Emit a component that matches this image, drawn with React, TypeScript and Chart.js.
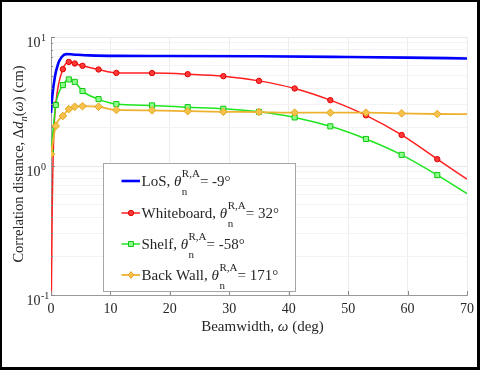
import React, { useEffect, useRef } from "react";
import { Chart, registerables } from "chart.js";

Chart.register(...registerables);

// ---------- data ----------
const X_TICKS = [0, 10, 20, 30, 40, 50, 60, 70];
const Y_GRID_VALUES = [
  0.1, 0.2, 0.3, 0.4, 0.5, 0.6, 0.7, 0.8, 0.9,
  1, 2, 3, 4, 5, 6, 7, 8, 9, 10,
];
const Y_DECADES = [0.1, 1, 10];
const Y_DECADE_EXPONENTS = ["-1", "0", "1"];

const MARKED_BEAMWIDTHS = [0, 0.8, 2, 3, 4, 5.3, 8, 11, 17, 23, 29, 35, 41, 47, 53, 59, 65];

const losBeamwidth = [0, 0.2, 0.65, 1.2, 1.8, 2.6, 3.7, 6.5, 11, 20, 35, 50, 60, 70];
const losDistance = [2.58, 3.4, 4.9, 6.2, 7.0, 7.37, 7.32, 7.2, 7.14, 7.13, 7.1, 7.0, 6.92, 6.82];

const whiteboardBeamwidth = [0, 0.2, 0.45, 0.8, 2, 3, 4, 5.3, 8, 11, 17, 23, 29, 35, 41, 47, 53, 59, 65, 70];
const whiteboardDistance = [0.05, 0.45, 1.65, 3.0, 5.63, 6.41, 6.23, 5.98, 5.6, 5.27, 5.25, 5.15, 4.97, 4.57, 3.99, 3.24, 2.47, 1.74, 1.13, 0.79];

const shelfBeamwidth = [0, 0.8, 2, 3, 4, 5.3, 8, 11, 17, 23, 29, 35, 41, 47, 53, 59, 65, 70];
const shelfDistance = [1.27, 2.97, 4.24, 4.69, 4.49, 3.81, 3.3, 3.02, 2.95, 2.86, 2.78, 2.63, 2.38, 2.03, 1.62, 1.22, 0.85, 0.61];

const backWallBeamwidth = [0, 0.8, 2, 3, 4, 5.3, 8, 11, 17, 23, 29, 35, 41, 47, 53, 59, 65, 70];
const backWallDistance = [1.24, 2.04, 2.44, 2.76, 2.88, 2.91, 2.88, 2.72, 2.7, 2.66, 2.63, 2.62, 2.59, 2.59, 2.59, 2.56, 2.53, 2.52];

const SERIES_NAMES = ["LoS, ", "Whiteboard, ", "Shelf, ", "Back Wall, "];
const SERIES_ANGLES = ["= -9°", "= 32°", "= -58°", "= 171°"];

// ---------- styles ----------
const SERIF = '"Liberation Serif", "Times New Roman", serif';
const TEXT = "#262626";
const BLUE = "#0000ff";
const RED = "#ff1f1f";
const GREEN = "#1fe61f";
const ORANGE = "#eeb230";

const STYLES = [
  { color: BLUE, width: 2.6, marker: "none", fill: BLUE, stroke: BLUE, r: 0 },
  { color: RED, width: 1.5, marker: "circle", fill: "#ff3a3a", stroke: "#e00000", r: 2.7 },
  { color: GREEN, width: 1.5, marker: "rect", fill: "#8cff8c", stroke: "#10c810", r: 3.6 },
  { color: ORANGE, width: 1.8, marker: "rectRot", fill: "#f6c24a", stroke: "#e3a624", r: 3.8 },
];

const toPoints = (xs: number[], ys: number[]) => xs.map((x, i) => ({ x, y: ys[i] }));

function markerRadius(size: number) {
  return (ctx: any) => {
    const raw = ctx.raw as { x: number } | undefined;
    if (!raw) return 0;
    return MARKED_BEAMWIDTHS.includes(raw.x) ? size : 0;
  };
}

function drawMarker(ctx: CanvasRenderingContext2D, kind: string, x: number, y: number, fill: string, stroke: string) {
  ctx.save();
  ctx.fillStyle = fill;
  ctx.strokeStyle = stroke;
  ctx.lineWidth = 1;
  ctx.beginPath();
  if (kind === "circle") {
    ctx.arc(x, y, 2.7, 0, Math.PI * 2);
  } else if (kind === "rect") {
    ctx.rect(x - 2.5, y - 2.5, 5, 5);
  } else if (kind === "rectRot") {
    ctx.moveTo(x, y - 3.4);
    ctx.lineTo(x + 2.7, y);
    ctx.lineTo(x, y + 3.4);
    ctx.lineTo(x - 2.7, y);
    ctx.closePath();
  } else {
    ctx.restore();
    return;
  }
  ctx.fill();
  ctx.stroke();
  ctx.restore();
}

const decorPlugin = {
  id: "decor",
  afterDraw(chart: any) {
    const { ctx, chartArea } = chart;
    const xs = chart.scales.x;
    const ys = chart.scales.y;
    const { left, right, bottom } = chartArea;
    ctx.save();

    // inward tick marks
    ctx.strokeStyle = "#8a8a8a";
    ctx.lineWidth = 1;
    ctx.beginPath();
    X_TICKS.forEach((v) => {
      const px = Math.round(xs.getPixelForValue(v)) + 0.5;
      ctx.moveTo(px, bottom);
      ctx.lineTo(px, bottom - 4);
    });
    Y_GRID_VALUES.forEach((v) => {
      const py = Math.round(ys.getPixelForValue(v)) + 0.5;
      const len = Y_DECADES.includes(v) ? 4 : 2;
      ctx.moveTo(left, py);
      ctx.lineTo(left + len, py);
    });
    ctx.stroke();

    // y tick labels 10^n
    ctx.fillStyle = TEXT;
    ctx.textBaseline = "alphabetic";
    ctx.textAlign = "left";
    Y_DECADES.forEach((v, i) => {
      const py = ys.getPixelForValue(v);
      ctx.font = `14px ${SERIF}`;
      ctx.fillText("10", 26.5, py + 10);
      const w = ctx.measureText("10").width;
      ctx.font = `10px ${SERIF}`;
      ctx.fillText(Y_DECADE_EXPONENTS[i], 26.5 + w + 0.5, py + 4);
    });

    // x title
    {
      const parts = [
        { t: "Beamwidth, ", f: `15px ${SERIF}` },
        { t: "ω", f: `italic 15px ${SERIF}` },
        { t: " (deg)", f: `15px ${SERIF}` },
      ];
      let total = 0;
      parts.forEach((p) => { ctx.font = p.f; total += ctx.measureText(p.t).width; });
      let cx = (left + right) / 2 + 3.5 - total / 2;
      parts.forEach((p) => {
        ctx.font = p.f;
        ctx.fillText(p.t, cx, 331);
        cx += ctx.measureText(p.t).width;
      });
    }

    // y title (rotated)
    {
      const parts = [
        { t: "Correlation distance, Δ", f: `14.5px ${SERIF}`, dy: 0 },
        { t: "d", f: `italic 14.5px ${SERIF}`, dy: 0 },
        { t: "n", f: `italic 10.5px ${SERIF}`, dy: 4 },
        { t: "(", f: `14.5px ${SERIF}`, dy: 0 },
        { t: "ω", f: `italic 14.5px ${SERIF}`, dy: 0 },
        { t: ") (cm)", f: `14.5px ${SERIF}`, dy: 0 },
      ];
      let total = 0;
      parts.forEach((p) => { ctx.font = p.f; total += ctx.measureText(p.t).width; });
      ctx.save();
      ctx.translate(22.5, 164);
      ctx.rotate(-Math.PI / 2);
      let cx = -total / 2;
      parts.forEach((p) => {
        ctx.font = p.f;
        ctx.fillText(p.t, cx, p.dy);
        cx += ctx.measureText(p.t).width;
      });
      ctx.restore();
    }

    // legend
    {
      const bx = 103.5, by = 163.5, bw = 192, bh = 128;
      ctx.fillStyle = "#ffffff";
      ctx.fillRect(bx, by, bw, bh);
      ctx.strokeStyle = "#a6a6a6";
      ctx.lineWidth = 1;
      ctx.strokeRect(bx, by, bw, bh);
      const rows = [181, 213, 244, 275];
      SERIES_NAMES.forEach((name, i) => {
        const st = STYLES[i];
        const ry = rows[i];
        ctx.strokeStyle = st.color;
        ctx.lineWidth = st.width;
        ctx.beginPath();
        ctx.moveTo(121.5, ry);
        ctx.lineTo(140, ry);
        ctx.stroke();
        drawMarker(ctx, st.marker, 131, ry, st.fill, st.stroke);
        ctx.fillStyle = TEXT;
        const base = ry + 4.5;
        let cx = 141.5;
        ctx.font = `15px ${SERIF}`;
        ctx.fillText(name, cx, base);
        cx += ctx.measureText(name).width;
        ctx.font = `italic 15px ${SERIF}`;
        ctx.fillText("θ", cx, base);
        cx += ctx.measureText("θ").width + 0.5;
        ctx.font = `11px ${SERIF}`;
        ctx.fillText("R,A", cx, base - 8.5);
        const supW = ctx.measureText("R,A").width;
        ctx.fillText("n", cx, base + 9);
        cx += supW;
        ctx.font = `15px ${SERIF}`;
        ctx.fillText(SERIES_ANGLES[i], cx, base);
      });
    }

    // outer frame
    ctx.fillStyle = "#000000";
    ctx.fillRect(0, 0, 480, 2);
    ctx.fillRect(0, 0, 2, 370);
    ctx.fillRect(477, 0, 3, 370);
    ctx.fillRect(0, 367, 480, 3);

    ctx.restore();
  },
};

export default function App() {
  const canvasRef = useRef<HTMLCanvasElement | null>(null);

  useEffect(() => {
    document.body.style.margin = "0";
    document.body.style.background = "#ffffff";
    const canvas = canvasRef.current;
    if (!canvas) return;

    const seriesData = [
      toPoints(losBeamwidth, losDistance),
      toPoints(whiteboardBeamwidth, whiteboardDistance),
      toPoints(shelfBeamwidth, shelfDistance),
      toPoints(backWallBeamwidth, backWallDistance),
    ];

    const datasets = seriesData.map((data, i) => {
      const st = STYLES[i];
      return {
        label: SERIES_NAMES[i],
        data,
        borderColor: st.color,
        borderWidth: st.width,
        backgroundColor: st.fill,
        pointStyle: st.marker === "none" ? "circle" : st.marker,
        pointRadius: st.marker === "none" ? 0 : markerRadius(st.r),
        pointBackgroundColor: st.fill,
        pointBorderColor: st.stroke,
        pointBorderWidth: 1,
        cubicInterpolationMode: "monotone" as const,
        fill: false,
        order: 4 - i,
      };
    });

    const chart = new Chart(canvas, {
      type: "line",
      data: { datasets },
      options: {
        animation: false,
        responsive: false,
        maintainAspectRatio: false,
        events: [],
        layout: { padding: { top: 37, right: 11, left: 0, bottom: 0 } },
        plugins: { legend: { display: false }, tooltip: { enabled: false } },
        scales: {
          x: {
            type: "linear",
            min: 0,
            max: 70,
            ticks: {
              stepSize: 10,
              color: TEXT,
              font: { family: SERIF, size: 14 },
              padding: 6,
              maxRotation: 0,
            },
            grid: { color: "#ececec", drawTicks: false },
            border: { color: "#9a9a9a" },
            afterFit: (s: any) => { s.height = 75; },
          },
          y: {
            type: "logarithmic",
            min: 0.1,
            max: 10,
            afterBuildTicks: (s: any) => {
              s.ticks = Y_GRID_VALUES.map((v) => ({ value: v, major: Y_DECADES.includes(v) }));
            },
            ticks: { display: false },
            grid: {
              drawTicks: false,
              color: (c: any) => (c.tick && Y_DECADES.includes(c.tick.value) ? "#e8e8e8" : "#f3f3f3"),
            },
            border: { color: "#9a9a9a" },
            afterFit: (s: any) => { s.width = 51; },
          },
        },
      },
      plugins: [decorPlugin],
    });

    return () => chart.destroy();
  }, []);

  return (
    <div style={{ width: 480, height: 370, position: "relative", background: "#fff" }}>
      <canvas ref={canvasRef} width={480} height={370} style={{ display: "block", width: 480, height: 370 }} />
    </div>
  );
}
